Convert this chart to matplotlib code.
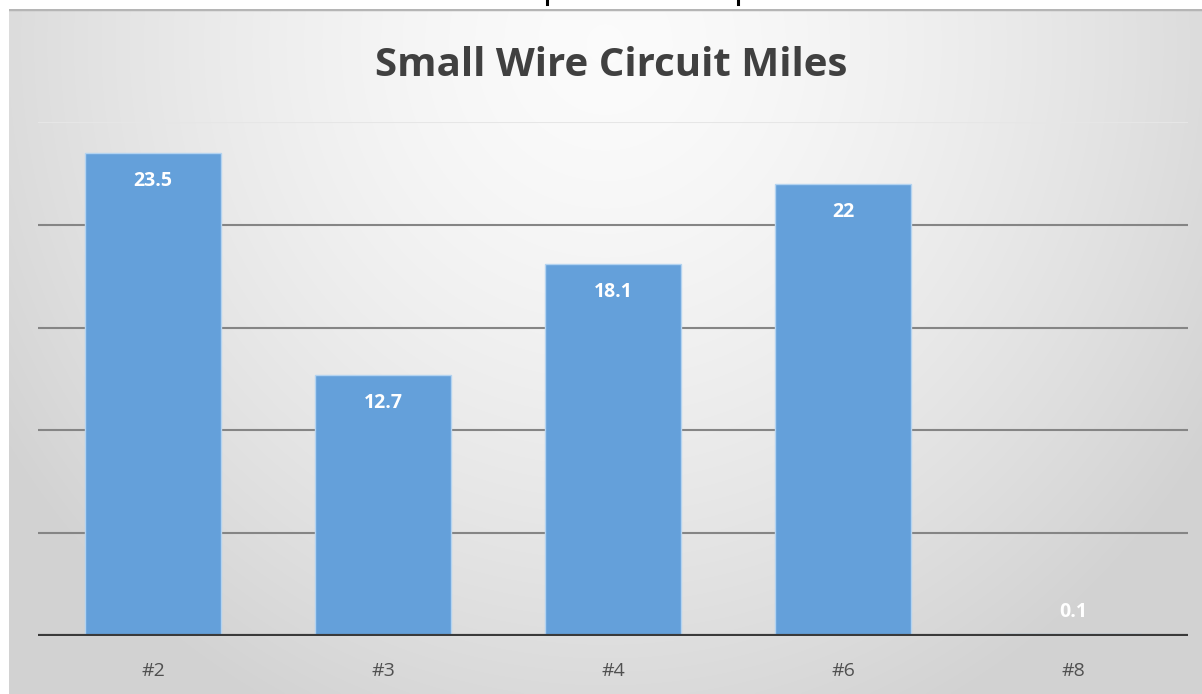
import numpy as np
import matplotlib
matplotlib.use("Agg")
import matplotlib.pyplot as plt
from matplotlib.lines import Line2D

# Circuit miles by wire size
categories = ["#2", "#3", "#4", "#6", "#8"]
miles = [23.5, 12.7, 18.1, 22.0, 0.1]
value_labels = ["23.5", "12.7", "18.1", "22", "0.1"]
gridlines = [5, 10, 15, 20, 25]

W, H = 1202, 694
fig = plt.figure(figsize=(W / 100, H / 100), dpi=100, facecolor="white")

# Chart-area background: soft radial gradient, bright at top centre
bx0, by_top = 9, 9
bg = fig.add_axes([bx0 / W, 0, 1 - bx0 / W, (H - by_top) / H])
bg.set_axis_off()
ny, nx = 300, 500
yy, xx = np.mgrid[0:ny, 0:nx]
u = (xx / (nx - 1) - 0.5) / 0.6
v = (yy / (ny - 1) - 0.05) / 1.1
r = np.clip(np.sqrt(u ** 2 + v ** 2), 0, 1)
shade = 0.985 - 0.16 * r ** 1.5
img = np.dstack([shade, shade, shade])
bg.imshow(img, aspect="auto", extent=[0, 1, 0, 1], interpolation="bilinear")
bg.set_xlim(0, 1)
bg.set_ylim(0, 1)
bg.axhline(1, color="#b5b5b5", lw=2.5)

# Descender stubs of the body-text line running above the chart
for xp in (547, 738):
    fig.add_artist(Line2D([xp / W, xp / W], [1, 1 - 4 / H], color="black", lw=2.2,
                          transform=fig.transFigure))

# Plot area
left, right = 38, 1188
bottom_px, top_px = 636, 122
ax = fig.add_axes([left / W, 1 - bottom_px / H, (right - left) / W, (bottom_px - top_px) / H])
ax.patch.set_alpha(0)
ax.set_xlim(-0.5, len(categories) - 0.5)
ax.set_ylim(0, 25)

for g in gridlines:
    col = "#e6e6e6" if g == 25 else "#858585"
    ax.axhline(g, color=col, lw=1.5, zorder=1)

x = np.arange(len(categories))
ax.bar(x, miles, width=0.59, color="#64a0da", edgecolor="#b3d3f0", linewidth=1.0, zorder=2)
ax.axhline(0, color="#3a3a3a", lw=3, zorder=3)

for xi, val, lab in zip(x, miles, value_labels):
    ypos = max(val - 1.36, 1.15)
    ax.text(xi, ypos, lab, ha="center", va="center", color="white",
            fontsize=14, fontweight="bold", family="Open Sans", zorder=4)

ax.set_xticks(x)
ax.set_xticklabels(categories, fontsize=14, color="#505050", family="Open Sans")
ax.tick_params(axis="x", length=0, pad=19)
ax.set_yticks([])
for s in ax.spines.values():
    s.set_visible(False)

fig.text(611 / W, 1 - 66 / H, "Small Wire Circuit Miles", ha="center", va="center",
         fontsize=29, fontweight="bold", family="Open Sans", color="#404040")

fig.savefig("out.png", dpi=100, facecolor="white")
